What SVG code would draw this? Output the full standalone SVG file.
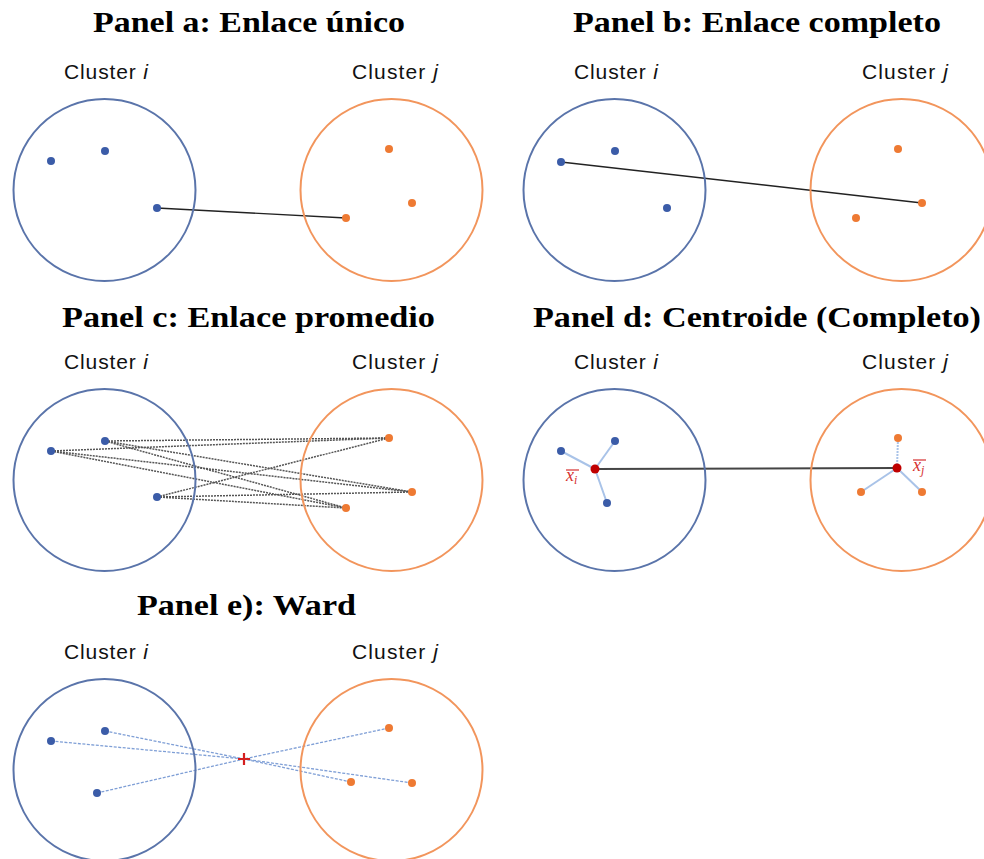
<svg xmlns="http://www.w3.org/2000/svg" width="984" height="859" viewBox="0 0 984 859">
<style>
.title{font-family:"Liberation Serif","Times New Roman",serif;font-weight:bold;font-size:30px;fill:#000}
.lbl{font-family:"Liberation Sans",Arial,sans-serif;font-size:21px;fill:#111}
.it{font-style:italic}
.ci{fill:none;stroke:#5a74aa;stroke-width:2}
.cj{fill:none;stroke:#f2955c;stroke-width:2}
.pi{fill:#3b5ca8}
.pj{fill:#ee7a33}
.solid{stroke:#222;stroke-width:1.4;fill:none}
.avg{stroke:#555;stroke-width:1.5;stroke-dasharray:2 1;fill:none}
.ward{stroke:#7f9fd6;stroke-width:1.3;stroke-dasharray:3 1.5;fill:none}
.cen{stroke:#a9c3e8;stroke-width:2;fill:none}
.cenl{fill:#d6302f;font-family:"Liberation Serif","Times New Roman",serif;font-style:italic;font-size:18px}
</style>
<rect width="984" height="859" fill="#fff"/>

<!-- Titles -->
<g id="titles">
<text class="title" x="93" y="32" textLength="312" lengthAdjust="spacingAndGlyphs">Panel a: Enlace único</text>
<text class="title" x="573" y="32" textLength="368" lengthAdjust="spacingAndGlyphs">Panel b: Enlace completo</text>
<text class="title" x="62" y="327" textLength="373" lengthAdjust="spacingAndGlyphs">Panel c: Enlace promedio</text>
<text class="title" x="533" y="327" textLength="448" lengthAdjust="spacingAndGlyphs">Panel d: Centroide (Completo)</text>
<text class="title" x="137" y="615" textLength="219" lengthAdjust="spacingAndGlyphs">Panel e): Ward</text>
</g>

<!-- Connectors -->
<g id="connectors">
<line class="solid" x1="157" y1="208" x2="346" y2="218"/>
<line class="solid" x1="561" y1="162" x2="922" y2="203"/>
<g id="avg-lines">
<line class="avg" x1="51" y1="451" x2="389" y2="438"/>
<line class="avg" x1="51" y1="451" x2="412" y2="492"/>
<line class="avg" x1="51" y1="451" x2="346" y2="508"/>
<line class="avg" x1="105" y1="441" x2="389" y2="438"/>
<line class="avg" x1="105" y1="441" x2="412" y2="492"/>
<line class="avg" x1="105" y1="441" x2="346" y2="508"/>
<line class="avg" x1="157" y1="497" x2="389" y2="438"/>
<line class="avg" x1="157" y1="497" x2="412" y2="492"/>
<line class="avg" x1="157" y1="497" x2="346" y2="508"/>
</g>
<g id="centroid-lines">
<line class="cen" x1="595" y1="469" x2="561" y2="451"/>
<line class="cen" x1="595" y1="469" x2="615" y2="441"/>
<line class="cen" x1="595" y1="469" x2="607" y2="503"/>
<line class="cen" x1="897" y1="468" x2="898" y2="438" stroke-dasharray="2 1"/>
<line class="cen" x1="897" y1="468" x2="861" y2="492"/>
<line class="cen" x1="897" y1="468" x2="922" y2="492"/>
<line stroke="#444" stroke-width="2" x1="595" y1="469" x2="897" y2="468"/>
</g>
<g id="ward-lines">
<line class="ward" x1="51" y1="741" x2="244" y2="759"/>
<line class="ward" x1="105" y1="731" x2="244" y2="759"/>
<line class="ward" x1="97" y1="793" x2="244" y2="759"/>
<line class="ward" x1="389" y1="728" x2="244" y2="759"/>
<line class="ward" x1="351" y1="782" x2="244" y2="759"/>
<line class="ward" x1="412" y1="783" x2="244" y2="759"/>
</g>
</g>

<!-- Panel a -->
<g id="panel-a">
<g id="a-cluster-i">
<text class="lbl" x="64" y="79" textLength="84">Cluster <tspan class="it">i</tspan></text>
<circle class="ci" cx="104.5" cy="190" r="91"/>
<circle class="pi" cx="51" cy="161" r="4"/>
<circle class="pi" cx="105" cy="151" r="4"/>
<circle class="pi" cx="157" cy="208" r="4"/>
</g>
<g id="a-cluster-j">
<text class="lbl" x="352" y="79" textLength="86">Cluster <tspan class="it">j</tspan></text>
<circle class="cj" cx="391.5" cy="190" r="91"/>
<circle class="pj" cx="389" cy="149" r="4"/>
<circle class="pj" cx="412" cy="203" r="4"/>
<circle class="pj" cx="346" cy="218" r="4"/>
</g>
</g>

<!-- Panel b -->
<g id="panel-b">
<g id="b-cluster-i">
<text class="lbl" x="574" y="79" textLength="84">Cluster <tspan class="it">i</tspan></text>
<circle class="ci" cx="614.5" cy="190" r="91"/>
<circle class="pi" cx="561" cy="162" r="4"/>
<circle class="pi" cx="615" cy="151" r="4"/>
<circle class="pi" cx="667" cy="208" r="4"/>
</g>
<g id="b-cluster-j">
<text class="lbl" x="862" y="79" textLength="86">Cluster <tspan class="it">j</tspan></text>
<circle class="cj" cx="901.5" cy="190" r="91"/>
<circle class="pj" cx="898" cy="149" r="4"/>
<circle class="pj" cx="922" cy="203" r="4"/>
<circle class="pj" cx="856" cy="218" r="4"/>
</g>
</g>

<!-- Panel c -->
<g id="panel-c">
<g id="c-cluster-i">
<text class="lbl" x="64" y="369" textLength="84">Cluster <tspan class="it">i</tspan></text>
<circle class="ci" cx="104.5" cy="480" r="91"/>
<circle class="pi" cx="51" cy="451" r="4"/>
<circle class="pi" cx="105" cy="441" r="4"/>
<circle class="pi" cx="157" cy="497" r="4"/>
</g>
<g id="c-cluster-j">
<text class="lbl" x="352" y="369" textLength="86">Cluster <tspan class="it">j</tspan></text>
<circle class="cj" cx="391.5" cy="480" r="91"/>
<circle class="pj" cx="389" cy="438" r="4"/>
<circle class="pj" cx="412" cy="492" r="4"/>
<circle class="pj" cx="346" cy="508" r="4"/>
</g>
</g>

<!-- Panel d -->
<g id="panel-d">
<g id="d-cluster-i">
<text class="lbl" x="574" y="369" textLength="84">Cluster <tspan class="it">i</tspan></text>
<circle class="ci" cx="614.5" cy="480" r="91"/>
<circle class="pi" cx="561" cy="451" r="4"/>
<circle class="pi" cx="615" cy="441" r="4"/>
<circle class="pi" cx="607" cy="503" r="4"/>
<circle fill="#c00000" cx="595" cy="469" r="4.5"/>
<text class="cenl" x="566" y="481">x<tspan font-size="12" dy="3">i</tspan></text>
<line x1="566" y1="470" x2="579" y2="470" stroke="#d6302f" stroke-width="1.2"/>
</g>
<g id="d-cluster-j">
<text class="lbl" x="862" y="369" textLength="86">Cluster <tspan class="it">j</tspan></text>
<circle class="cj" cx="901.5" cy="480" r="91"/>
<circle class="pj" cx="898" cy="438" r="4"/>
<circle class="pj" cx="861" cy="492" r="4"/>
<circle class="pj" cx="922" cy="492" r="4"/>
<circle fill="#c00000" cx="897" cy="468" r="4.5"/>
<text class="cenl" x="913" y="471">x<tspan font-size="12" dy="3">j</tspan></text>
<line x1="913" y1="460" x2="926" y2="460" stroke="#d6302f" stroke-width="1.2"/>
</g>
</g>

<!-- Panel e -->
<g id="panel-e">
<g id="e-cluster-i">
<text class="lbl" x="64" y="659" textLength="84">Cluster <tspan class="it">i</tspan></text>
<circle class="ci" cx="104.5" cy="770" r="91"/>
<circle class="pi" cx="51" cy="741" r="4"/>
<circle class="pi" cx="105" cy="731" r="4"/>
<circle class="pi" cx="97" cy="793" r="4"/>
</g>
<g id="e-cluster-j">
<text class="lbl" x="352" y="659" textLength="86">Cluster <tspan class="it">j</tspan></text>
<circle class="cj" cx="391.5" cy="770" r="91"/>
<circle class="pj" cx="389" cy="728" r="4"/>
<circle class="pj" cx="351" cy="782" r="4"/>
<circle class="pj" cx="412" cy="783" r="4"/>
</g>
<g id="e-centre">
<path d="M238 759 H250 M244 753 V765" stroke="#d42020" stroke-width="2.2" fill="none"/>
</g>
</g>
</svg>
